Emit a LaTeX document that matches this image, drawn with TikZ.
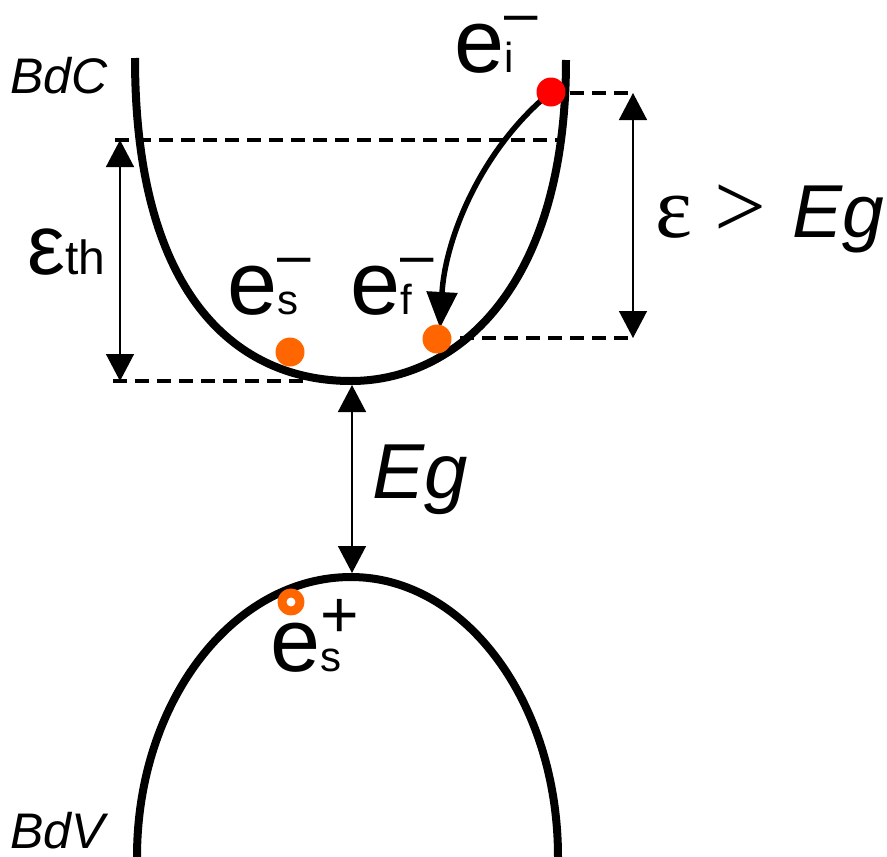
\documentclass[tikz,border=0pt]{standalone}
\usepackage{fontspec}
\setmainfont{Liberation Sans}
\newfontfamily\symfont{Liberation Serif}
\usetikzlibrary{arrows.meta}
\definecolor{elec}{RGB}{255,102,0}
\definecolor{hot}{RGB}{255,0,0}
\newcommand{\fs}[1]{\fontsize{#1}{#1}\selectfont}
\newcommand{\supminus}{\raisebox{39pt}{\fs{60}–}}
\newcommand{\supplus}{\raisebox{34pt}{\fs{66}+}}
\newcommand{\carrier}[2]{\fs{90}e\rlap{#2}{\fs{42}#1}}
\tikzset{
  band/.style={line width=8pt},
  dashline/.style={line width=3.5pt, dash pattern=on 14pt off 8pt},
  gaparrow/.style={line width=1.5pt, {Triangle[width=28pt,length=27pt]}-{Triangle[width=28pt,length=27pt]}},
  hop/.style={line width=5.5pt, -{Triangle[width=30pt,length=36pt]}},
  lbl/.style={anchor=base west, inner sep=0pt}
}
\begin{document}
\begin{tikzpicture}[x=1pt, y=-1pt, line join=round]
		\useasboundingbox (0,0) rectangle (887,857);
		\coordinate (I) at (551,92);
		\coordinate (F) at (437,339);
		\coordinate (S) at (290,352);
		\coordinate (H) at (291,602);
		\coordinate (thT) at (120,140);
		\coordinate (thB) at (120,381);
		\coordinate (exT) at (633,93);
		\coordinate (exB) at (633,338);
		\coordinate (gT) at (352,385);
		\coordinate (gB) at (352,573);
		% guide lines
		\draw[dashline] (570,93) -- (exT) (115,140) -- (557,140) (460,338) -- (exB) (113,381) -- (310,381);
		% bands
		\draw[band] (135,58) .. controls (135,300) and (240,381) .. (351,381) .. controls (455,381) and (566,290) .. (566,60);
		\draw[band] (137,857) arc[start angle=180, end angle=270, x radius=214, y radius=280]
			arc[start angle=270, end angle=360, x radius=207, y radius=280];
		% energies
		\draw[gaparrow] (thT) -- (thB);
		\draw[gaparrow] (exT) -- (exB);
		\draw[gaparrow] (gT) -- (gB);
		\draw[hop] (I) .. controls (480,150) and (445,240) .. (440,328);
		\foreach \p/\c in {I/hot, S/elec, F/elec}
		\fill[\c] (\p) circle (14.5pt);
		\draw[elec, line width=9pt] (H) circle (9pt);
		% labels
		\node[lbl] (ei) at (454,72) {\carrier{i}{\supminus}};
		\node[lbl] (es) at (227,314) {\carrier{s}{\supminus}};
		\node[lbl] (ef) at (350,314) {\carrier{f}{\supminus}};
		\node[lbl] (hs) at (270,671) {\carrier{s}{\supplus}};
		\node[lbl] (bdc) at (10,93) {\fs{50}\itshape BdC};
		\node[lbl] (bdv) at (10,848) {\fs{50}\itshape BdV};
		\node[lbl] (eth) at (27,274) {\fs{85}ε\fs{48}th};
		\node[lbl] (eg) at (372,498) {\fs{78}\itshape Eg};
		\node[lbl] (ecrit) at (655,237) {{\symfont\fs{88}ε\hspace{22pt}\fs{92}>}\hspace{26pt}\fs{75}\itshape Eg};
	\end{tikzpicture}
\end{document}
